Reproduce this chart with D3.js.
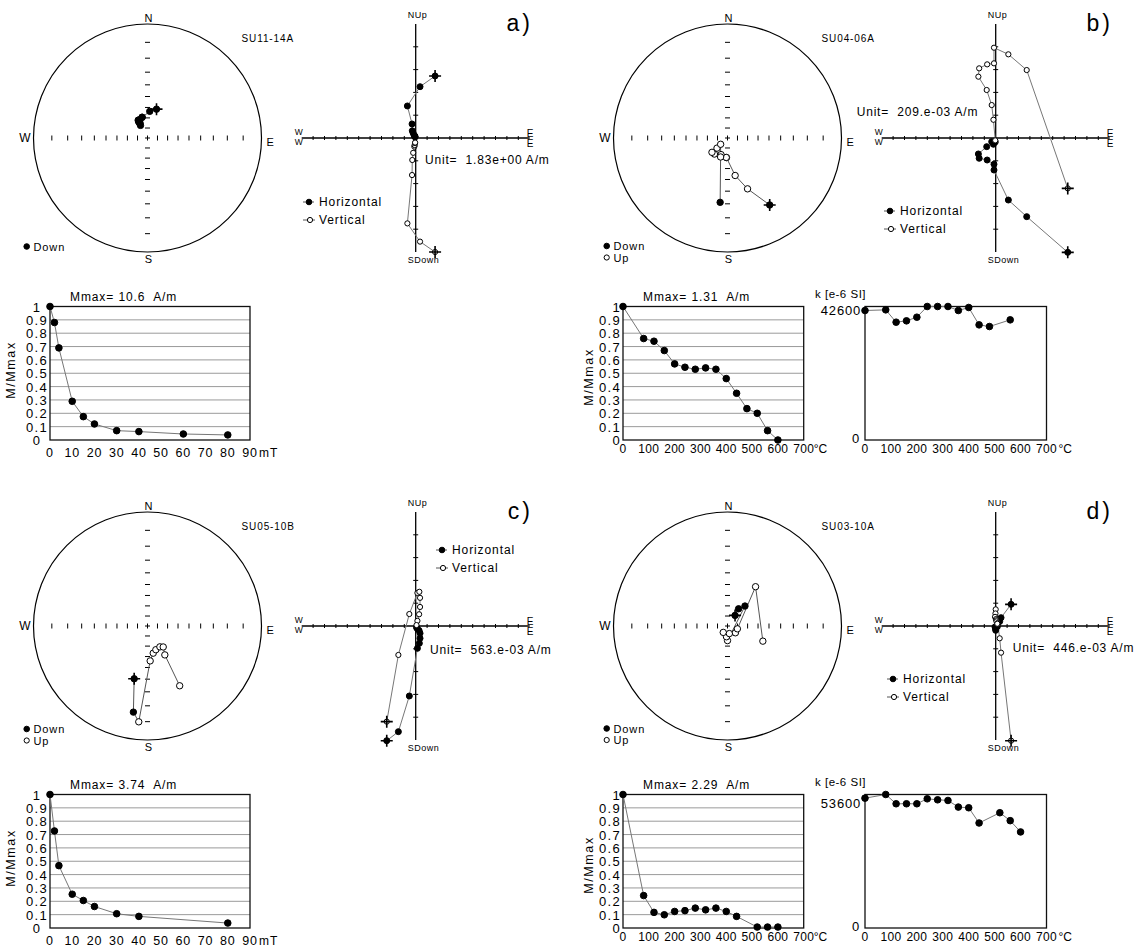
<!DOCTYPE html>
<html><head><meta charset="utf-8">
<script src="https://cdn.jsdelivr.net/npm/d3@7"></script>
<style>
body{margin:0;background:#fff}
svg text{font-family:"Liberation Sans",Arial,sans-serif;fill:#000;white-space:pre}
</style></head><body>
<svg id="fig" width="1139" height="949"></svg>
<script>
// ---- specimen labels ----
const specimenNames = ["SU11-14A", "SU04-06A", "SU05-10B", "SU03-10A"];
const panelLetters = ["a)", "b)", "c)", "d)"];
const unitLabels = ["Unit=  1.83e+00 A/m", "Unit=  209.e-03 A/m", "Unit=  563.e-03 A/m", "Unit=  446.e-03 A/m"];
const mmaxLabels = ["Mmax= 10.6  A/m", "Mmax= 1.31  A/m", "Mmax= 3.74  A/m", "Mmax= 2.29  A/m"];

// ---- demagnetisation vectors [East, North, Up], in units of one axis tick ----
const zijA = [[1.70,5.44,-10.0],[0.38,4.50,-9.09],[-0.73,2.81,-7.49],[-0.32,1.23,-3.25],[-0.30,0.63,-1.93],
              [-0.22,0.42,-1.30],[-0.12,0.22,-0.75],[-0.09,0.17,-0.62],[-0.06,0.12,-0.45],[-0.05,0.09,-0.40]];
const zijB = [[6.32,-10.03,-4.42],[2.72,-6.90,5.96],[1.11,-5.44,7.34],[-0.15,-2.81,7.92],[-0.15,-2.30,6.55],
              [-0.75,-1.93,6.46],[-1.45,-1.78,6.11],[-1.52,-1.40,5.38],[-0.79,-0.76,4.21],[-0.35,-0.32,2.89],
              [-0.20,-0.55,1.60],[-0.04,-0.35,-0.21]];
const zijC = [[-2.54,-10.06,-8.39],[-1.52,-9.27,-2.54],[-0.56,-6.14,1.05],[0.15,-1.96,2.90],[0.32,-1.52,3.00],
              [0.38,-1.08,2.47],[0.38,-0.64,1.67],[0.30,-0.40,1.03],[0.15,-0.25,0.45],[0.07,-0.13,0.08]];
const zijD = [[1.35,1.90,-10.06],[0.47,0.73,-2.34],[0.35,0.40,-1.08],[0.00,-0.38,1.46],[-0.02,-0.21,1.10],
              [-0.06,-0.09,0.80],[0.02,-0.08,0.60],[0.07,-0.06,0.50],[0.07,-0.02,0.40],[0.15,0.21,0.25],[0.14,-0.06,0.20]];

// ---- normalised intensity decay ----
const afStepsA = [0, 2, 4, 10, 15, 20, 30, 40, 60, 80];
const afMagA   = [1, 0.88, 0.69, 0.29, 0.175, 0.12, 0.07, 0.063, 0.045, 0.038];
const afStepsC = [0, 2, 4, 10, 15, 20, 30, 40, 80];
const afMagC   = [1, 0.727, 0.467, 0.253, 0.206, 0.161, 0.107, 0.087, 0.037];
const thStepsB = [0, 80, 120, 160, 200, 240, 280, 320, 360, 400, 440, 480, 520, 560, 600];
const thMagB   = [1, 0.76, 0.74, 0.67, 0.57, 0.545, 0.53, 0.54, 0.53, 0.46, 0.35, 0.235, 0.2, 0.07, 0];
const thStepsD = [0, 80, 120, 160, 200, 240, 280, 320, 360, 400, 440, 520, 560, 600];
const thMagD   = [1, 0.243, 0.117, 0.099, 0.124, 0.13, 0.149, 0.136, 0.149, 0.124, 0.087, 0.007, 0.007, 0.007];

// ---- bulk susceptibility during heating, k [e-6 SI] ----
const kStepsB = [0, 80, 120, 160, 200, 240, 280, 320, 360, 400, 440, 480, 560];
const kValB   = [42600, 42820, 38760, 39200, 40400, 43920, 43920, 43920, 42600, 43590, 37880, 37330, 39530];
const kStepsD = [0, 80, 120, 160, 200, 240, 280, 320, 360, 400, 440, 520, 560, 600];
const kValD   = [55730, 57300, 53320, 53320, 53320, 55450, 55020, 54740, 51900, 51610, 45070, 49480, 46070, 41230];
const kTickLabels = [42600, 53600];

// ---- axis ticks ----
const magTicks = [0, 0.1, 0.2, 0.3, 0.4, 0.5, 0.6, 0.7, 0.8, 0.9, 1];
const afTicks  = [0, 10, 20, 30, 40, 50, 60, 70, 80, 90];
const thTicks  = [0, 100, 200, 300, 400, 500, 600, 700];
const stereoTickIncs = [10, 20, 30, 40, 50, 60, 70, 80];

const svg = d3.select("#fig");

function txt(g, x, y, s, size, anchor, ls) {
  return g.append("text").attr("x", x).attr("y", y).attr("font-size", size)
    .attr("text-anchor", anchor || "start").attr("letter-spacing", ls || 0).text(s);
}
function startCross(g, x, y) {
  g.append("path").attr("d", `M${x-6},${y}H${x+6}M${x},${y-6}V${y+6}`)
    .attr("stroke", "#000").attr("stroke-width", 1.6);
}
function marker(g, x, y, filled, r) {
  g.append("circle").attr("cx", x).attr("cy", y).attr("r", r || 3)
    .attr("fill", filled ? "#000" : "#fff").attr("stroke", "#000").attr("stroke-width", 1);
}

// ---- equal-angle stereonet of the step directions ----
function drawStereonet(g, vecs, cfg) {
  const cx = 147.5, cy = 138, R = 114;
  const rad = d3.scaleLinear().domain([0, 1]).range([0, R]);
  const proj = inc => Math.tan((90 - Math.abs(inc)) * Math.PI / 360);
  g.append("circle").attr("cx", cx).attr("cy", cy).attr("r", R)
    .attr("fill", "none").attr("stroke", "#000").attr("stroke-width", 1.2);
  const tk = g.append("g").attr("stroke", "#000").attr("stroke-width", 1);
  stereoTickIncs.forEach(i => {
    const r = rad(proj(i));
    [-1, 1].forEach(s => {
      tk.append("line").attr("x1", cx + s * r).attr("x2", cx + s * r).attr("y1", cy - 2.5).attr("y2", cy + 2.5);
      tk.append("line").attr("x1", cx - 2.5).attr("x2", cx + 2.5).attr("y1", cy + s * r).attr("y2", cy + s * r);
    });
  });
  tk.append("path").attr("d", `M${cx-2.5},${cy}H${cx+2.5}M${cx},${cy-2.5}V${cy+2.5}`);
  txt(g, cx + 1, cy - R - 2, "N", 11, "middle");
  txt(g, cx + 1, cy + R + 11, "S", 11, "middle");
  txt(g, cx - R - 3, cy + 4, "W", 12, "end");
  txt(g, cx + R + 5, cy + 8, "E", 11, "start");

  const pts = vecs.map(([e, n, up]) => {
    const dec = Math.atan2(e, n);
    const inc = Math.atan2(-up, Math.hypot(e, n)) * 180 / Math.PI;
    const r = rad(proj(inc));
    return { x: cx + r * Math.sin(dec), y: cy - r * Math.cos(dec), down: inc >= 0 };
  });
  g.append("path").attr("d", d3.line().x(p => p.x).y(p => p.y)(pts))
    .attr("fill", "none").attr("stroke", "#555").attr("stroke-width", 1);
  pts.forEach(p => marker(g, p.x, p.y, p.down, 3.2));
  startCross(g, pts[0].x, pts[0].y);

  marker(g, 26.7, cfg.downY, true, 2.8);
  txt(g, 33.5, cfg.downY + 4, "Down", 11, "start", 0.9);
  if (cfg.showUp) {
    marker(g, 26.7, cfg.downY + 11.5, false, 2.6);
    txt(g, 33.5, cfg.downY + 15.5, "Up", 11, "start", 0.9);
  }
}

// ---- orthogonal vector (Zijderveld) diagram ----
function drawZijderveld(g, vecs, cfg) {
  const ox = 415.7, oy = 138, half = 114;
  const x = d3.scaleLinear().domain([-10, 10]).range([ox - half, ox + half]);
  const y = d3.scaleLinear().domain([-10, 10]).range([oy + half, oy - half]);
  const ax = g.append("g").attr("stroke", "#000");
  ax.append("line").attr("x1", x(-10)).attr("x2", x(10)).attr("y1", oy).attr("y2", oy).attr("stroke-width", 1.3);
  ax.append("line").attr("x1", ox).attr("x2", ox).attr("y1", y(10)).attr("y2", y(-10)).attr("stroke-width", 1.3);
  d3.range(-9, 10).filter(v => v !== 0).forEach(v =>
    ax.append("line").attr("x1", x(v)).attr("x2", x(v)).attr("y1", oy - 2).attr("y2", oy + 2));
  d3.range(-8, 9, 2).filter(v => v !== 0).forEach(v =>
    ax.append("line").attr("x1", ox - 2.5).attr("x2", ox + 2.5).attr("y1", y(v)).attr("y2", y(v)));

  txt(g, ox - 8, y(10) - 6, "NUp", 9, "start", 0.5);
  txt(g, ox - 8, y(-10) + 11, "SDown", 9, "start", 0.5);
  txt(g, x(-10) + 1, oy - 3, "W", 8.5, "end");
  txt(g, x(-10) + 1, oy + 6.5, "W", 8.5, "end");
  txt(g, x(10) - 3, oy - 1.5, "E", 10, "start");
  txt(g, x(10) - 3, oy + 8.5, "E", 10, "start");

  const line = d3.line();
  const hor = vecs.map(v => [x(v[0]), y(v[1])]);
  const ver = vecs.map(v => [x(v[0]), y(v[2])]);
  g.append("path").attr("d", line(hor)).attr("fill", "none").attr("stroke", "#777");
  g.append("path").attr("d", line(ver)).attr("fill", "none").attr("stroke", "#777");
  hor.forEach(p => marker(g, p[0], p[1], true, 3));
  ver.forEach(p => marker(g, p[0], p[1], false, 2.6));
  startCross(g, hor[0][0], hor[0][1]);
  startCross(g, ver[0][0], ver[0][1]);

  // legend
  const L = cfg.legend;
  g.append("line").attr("x1", L.x - 6).attr("x2", L.x + 5).attr("y1", L.y).attr("y2", L.y).attr("stroke", "#555");
  marker(g, L.x, L.y, true, 2.8);
  txt(g, L.x + 10, L.y + 4, "Horizontal", 12, "start", 0.9);
  g.append("line").attr("x1", L.x - 6).attr("x2", L.x + 6).attr("y1", L.y + 18).attr("y2", L.y + 18).attr("stroke", "#555");
  marker(g, L.x + 1, L.y + 18, false, 2.6);
  txt(g, L.x + 10, L.y + 22, "Vertical", 12, "start", 0.9);

  txt(g, cfg.unit.x, cfg.unit.y, cfg.unitText, 12, "start", 0.8);
}

// ---- normalised intensity plot ----
function drawDecay(g, steps, vals, cfg) {
  const { left, right, top, bottom, xMax, xTicks, thermal } = cfg;
  const x = d3.scaleLinear().domain([0, xMax]).range([left, right]);
  const y = d3.scaleLinear().domain([0, 1]).range([bottom, top]);
  magTicks.slice(1, -1).forEach(v =>
    g.append("line").attr("x1", left).attr("x2", right).attr("y1", y(v)).attr("y2", y(v))
      .attr("stroke", "#9a9a9a").attr("stroke-width", 1));
  g.append("rect").attr("x", left).attr("y", top).attr("width", right - left).attr("height", bottom - top)
    .attr("fill", "none").attr("stroke", "#111").attr("stroke-width", 1.3);
  magTicks.forEach(v => {
    const s = v === 0 || v === 1 ? String(v) : v.toFixed(1);
    if (thermal) txt(g, left - 2, y(v) + 5, s, 13, "end", 1.3);
    else txt(g, left - 13, y(v) + 5, s, 13, "middle", 1.3);
  });
  const last = xTicks[xTicks.length - 1];
  const xs = thermal ? 12 : 12.5, xls = thermal ? 0.3 : 0.8;
  xTicks.forEach(v => txt(g, x(v), cfg.xLabelY, String(v), xs, "middle", xls));
  txt(g, x(last) + (thermal ? 10 : 9), cfg.xLabelY, thermal ? "°C" : "mT", 12, "start", thermal ? 0 : 1);
  txt(g, cfg.yTitle.x, cfg.yTitle.y, "M/Mmax", 12.5, "middle", 1.6)
    .attr("transform", `rotate(-90,${cfg.yTitle.x},${cfg.yTitle.y})`);
  txt(g, left + 20, top - 6, cfg.title, 12, "start", 0.9);
  const pts = steps.map((s, i) => [x(s), y(vals[i])]);
  g.append("path").attr("d", d3.line()(pts)).attr("fill", "none").attr("stroke", "#777");
  pts.forEach(p => marker(g, p[0], p[1], true, 3.3));
}

// ---- susceptibility plot ----
function drawSusc(g, steps, vals, tick) {
  const left = 285, right = 466.5, top = 306.5, bottom = 440;
  const x = d3.scaleLinear().domain([0, 700]).range([left, right]);
  const y = d3.scaleLinear().domain([0, d3.max(vals)]).range([bottom, top]);
  g.append("rect").attr("x", left).attr("y", top).attr("width", right - left).attr("height", bottom - top)
    .attr("fill", "none").attr("stroke", "#111").attr("stroke-width", 1.3);
  txt(g, left - 50, top - 9, "k [e-6 SI]", 11.5, "start", 0.5);
  txt(g, left - 4, y(tick) + 4.5, String(tick), 13, "end", 0.8);
  txt(g, left - 5, y(0) + 3, "0", 13, "end", 0.8);
  thTicks.forEach(v => txt(g, x(v), 453, String(v), 12, "middle", 0.3));
  txt(g, x(700) + 12, 453, "°C", 12, "start");
  const pts = steps.map((s, i) => [x(s), y(vals[i])]);
  g.append("path").attr("d", d3.line()(pts)).attr("fill", "none").attr("stroke", "#777");
  pts.forEach(p => marker(g, p[0], p[1], true, 3.3));
}

// ---- panel layout ----
const panels = [
  { ox: 0, oy: 0, zij: zijA, downY: 246.5, showUp: false, legend: { x: 309, y: 202 }, unit: { x: 425, y: 164 },
    decay: { steps: afStepsA, vals: afMagA, thermal: false } },
  { ox: 580, oy: 0, zij: zijB, downY: 246, showUp: true, legend: { x: 310, y: 211 }, unit: { x: 276.7, y: 115.5 },
    decay: { steps: thStepsB, vals: thMagB, thermal: true }, k: { steps: kStepsB, vals: kValB, tick: kTickLabels[0] } },
  { ox: 0, oy: 488, zij: zijC, downY: 241, showUp: true, legend: { x: 442, y: 62 }, unit: { x: 430, y: 166 },
    decay: { steps: afStepsC, vals: afMagC, thermal: false } },
  { ox: 580, oy: 488, zij: zijD, downY: 240.5, showUp: true, legend: { x: 313, y: 191 }, unit: { x: 432.7, y: 164 },
    decay: { steps: thStepsD, vals: thMagD, thermal: true }, k: { steps: kStepsD, vals: kValD, tick: kTickLabels[1] } }
];

panels.forEach((p, i) => {
  const g = svg.append("g").attr("transform", `translate(${p.ox},${p.oy})`);
  drawStereonet(g, p.zij, p);
  drawZijderveld(g, p.zij, { legend: p.legend, unit: p.unit, unitText: unitLabels[i] });
  txt(g, 241.5, 42, specimenNames[i], 10, "start", 0.9);
  txt(g, 533, 31, panelLetters[i], 23, "end", 3);
  const d = p.decay;
  const cfg = d.thermal
    ? { left: 43, right: 223.7, top: 306.5, bottom: 440, xMax: 700, xTicks: thTicks, thermal: true,
        xLabelY: 453, yTitle: { x: 12.5, y: 377 }, title: mmaxLabels[i] }
    : { left: 50, right: 250, top: 306.5, bottom: 440, xMax: 90, xTicks: afTicks, thermal: false,
        xLabelY: 457, yTitle: { x: 15, y: 370 }, title: mmaxLabels[i] };
  drawDecay(g, d.steps, d.vals, cfg);
  if (p.k) drawSusc(g, p.k.steps, p.k.vals, p.k.tick);
});
</script></body></html>
